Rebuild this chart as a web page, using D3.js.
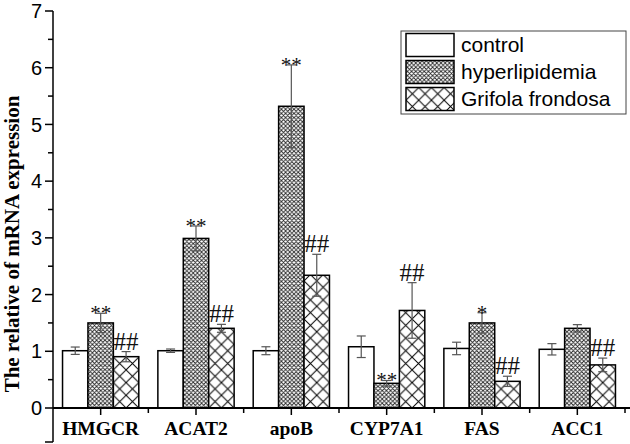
<!DOCTYPE html>
<html>
<head>
<meta charset="utf-8">
<script src="https://cdn.jsdelivr.net/npm/d3@7"></script>
<style>
  html, body { margin: 0; padding: 0; background: #fff; }
  svg { display: block; }
</style>
</head>
<body>
<svg id="chart" width="630" height="444"></svg>
<script>
const categories = ["HMGCR", "ACAT2", "apoB", "CYP7A1", "FAS", "ACC1"];
const seriesNames = ["control", "hyperlipidemia", "Grifola frondosa"];
const controlMean = [1.01, 1.01, 1.01, 1.08, 1.05, 1.035];
const controlErr  = [0.065, 0.03, 0.07, 0.19, 0.11, 0.10];
const hyperMean   = [1.50, 2.99, 5.32, 0.435, 1.50, 1.405];
const hyperErr    = [0.17, 0.22, 0.73, 0.05, 0.18, 0.065];
const gfMean      = [0.905, 1.405, 2.34, 1.72, 0.47, 0.76];
const gfErr       = [0.09, 0.07, 0.37, 0.49, 0.09, 0.12];
const hyperMarks  = ["**", "**", "**", "**", "*", ""];
const gfMarks     = ["##", "##", "##", "##", "##", "##"];
const yTickValues = [0, 1, 2, 3, 4, 5, 6, 7];
const yMinorValues = [0.5, 1.5, 2.5, 3.5, 4.5, 5.5, 6.5];
const yTitle = "The relative of mRNA expression";

const means = [controlMean, hyperMean, gfMean];
const errs = [controlErr, hyperErr, gfErr];
const marks = [categories.map(() => ""), hyperMarks, gfMarks];

const svg = d3.select("#chart");
const plotLeft = 53, plotRight = 625, plotTop = 11, plotBottom = 408;

const y = d3.scaleLinear().domain([0, 7]).range([plotBottom, plotTop]);
const x0 = d3.scaleBand().domain(categories).range([plotLeft, plotRight]).paddingInner(0.2).paddingOuter(0.1);
const x1 = d3.scaleBand().domain(seriesNames).range([0, x0.bandwidth()]);

const defs = svg.append("defs");
// fine crosshatch
const fs = 4.2;
const fine = defs.append("pattern").attr("id", "fine").attr("patternUnits", "userSpaceOnUse")
  .attr("width", fs).attr("height", fs);
fine.append("rect").attr("width", fs).attr("height", fs).attr("fill", "#fff");
fine.append("path").attr("d", `M0,0 L${fs},${fs} M0,${fs} L${fs},0 M-1,1 L1,-1 M${fs-1},${fs+1} L${fs+1},${fs-1} M-1,${fs-1} L1,${fs+1} M${fs-1},-1 L${fs+1},1`)
  .attr("stroke", "#222").attr("stroke-width", 0.85);

function coarsePattern(id, x0p, y0p) {
  const s = x1.bandwidth() / 2;
  const p = defs.append("pattern").attr("id", id).attr("patternUnits", "userSpaceOnUse")
    .attr("x", x0p).attr("y", y0p).attr("width", s).attr("height", s);
  p.append("rect").attr("width", s).attr("height", s).attr("fill", "#fff");
  p.append("path").attr("d", `M0,0 L${s},${s} M0,${s} L${s},0`).attr("stroke", "#000").attr("stroke-width", 1);
}

const fills = ["#fff", "url(#fine)", null];

// Bars
const g = svg.append("g");
categories.forEach((c, ci) => {
  seriesNames.forEach((s, si) => {
    const v = means[si][ci];
    const bx = x0(c) + x1(s);
    const bw = x1.bandwidth();
    let fill = fills[si];
    if (si === 2) {
      const id = "coarse" + ci;
      coarsePattern(id, bx, plotBottom);
      fill = `url(#${id})`;
    }
    g.append("rect").attr("x", bx).attr("y", y(v)).attr("width", bw).attr("height", plotBottom - y(v))
      .attr("fill", fill).attr("stroke", "#000").attr("stroke-width", 1.5);
  });
});

// Error bars
categories.forEach((c, ci) => {
  seriesNames.forEach((s, si) => {
    const v = means[si][ci], e = errs[si][ci];
    const cx = x0(c) + x1(s) + x1.bandwidth() / 2;
    const eg = g.append("g").attr("stroke", "#555").attr("stroke-width", 1.2);
    eg.append("line").attr("x1", cx).attr("x2", cx).attr("y1", y(v + e)).attr("y2", y(v - e));
    eg.append("line").attr("x1", cx - 4.5).attr("x2", cx + 4.5).attr("y1", y(v + e)).attr("y2", y(v + e));
    eg.append("line").attr("x1", cx - 4.5).attr("x2", cx + 4.5).attr("y1", y(v - e)).attr("y2", y(v - e));
    const m = marks[si][ci];
    if (m) {
      const isStar = m.indexOf("*") >= 0;
      g.append("text").attr("x", cx).attr("y", isStar ? y(v + e) + 7 : y(v + e) - 2)
        .attr("text-anchor", "middle")
        .attr("font-family", "'Liberation Serif', 'Times New Roman', serif")
        .attr("font-size", isStar ? 21 : 25)
        .attr("fill", "#111")
        .text(m);
    }
  });
});

// Y axis
const ax = svg.append("g").attr("stroke", "#000");
ax.append("line").attr("x1", plotLeft).attr("x2", plotLeft).attr("y1", plotTop).attr("y2", 442).attr("stroke-width", 1.5);
ax.append("line").attr("x1", plotLeft - 8).attr("x2", plotLeft).attr("y1", 442).attr("y2", 442).attr("stroke-width", 1.5);
yTickValues.forEach(t => {
  ax.append("line").attr("x1", plotLeft - 8).attr("x2", plotLeft).attr("y1", y(t)).attr("y2", y(t)).attr("stroke-width", 1.5);
});
yMinorValues.forEach(t => {
  ax.append("line").attr("x1", plotLeft - 5).attr("x2", plotLeft).attr("y1", y(t)).attr("y2", y(t)).attr("stroke-width", 1.5);
});
svg.append("g").selectAll("text").data(yTickValues).join("text")
  .attr("x", plotLeft - 11).attr("y", d => y(d)).attr("dy", "0.36em")
  .attr("text-anchor", "end")
  .attr("font-family", "'Liberation Sans', Arial, sans-serif").attr("font-size", 20)
  .text(d => d);

// X axis
ax.append("line").attr("x1", plotLeft).attr("x2", 630).attr("y1", plotBottom).attr("y2", plotBottom).attr("stroke-width", 2);
categories.forEach((c) => {
  const cx = x0(c) + x0.bandwidth() / 2;
  ax.append("line").attr("x1", cx).attr("x2", cx).attr("y1", plotBottom).attr("y2", plotBottom + 7).attr("stroke-width", 1.5);
  const bx = x0(c) + x0.bandwidth() + x0.step() * 0.1;
  ax.append("line").attr("x1", bx).attr("x2", bx).attr("y1", plotBottom).attr("y2", plotBottom + 5).attr("stroke-width", 1.5);
});
svg.append("g").selectAll("text").data(categories).join("text")
  .attr("x", d => x0(d) + x0.bandwidth() / 2).attr("y", 435)
  .attr("text-anchor", "middle")
  .attr("font-family", "'Liberation Serif', 'Times New Roman', serif").attr("font-weight", "bold").attr("font-size", 19.5)
  .text(d => d);

// Y title
svg.append("text").attr("transform", `translate(19,244) rotate(-90)`)
  .attr("text-anchor", "middle")
  .attr("font-family", "'Liberation Serif', 'Times New Roman', serif").attr("font-weight", "bold").attr("font-size", 21)
  .text(yTitle);

// Legend
const lg = svg.append("g");
lg.append("rect").attr("x", 401).attr("y", 31).attr("width", 225).attr("height", 83)
  .attr("fill", "#fff").attr("stroke", "#444").attr("stroke-width", 1);
seriesNames.forEach((s, i) => {
  const ry = 33.5 + i * 27;
  let fill = fills[i];
  if (i === 2) { coarsePattern("coarseLeg", 406, ry); fill = "url(#coarseLeg)"; }
  lg.append("rect").attr("x", 406).attr("y", ry).attr("width", 48).attr("height", 23)
    .attr("fill", fill).attr("stroke", "#000").attr("stroke-width", 1.5);
  lg.append("text").attr("x", 461).attr("y", ry + 11.5).attr("dy", "0.35em")
    .attr("font-family", "'Liberation Sans', Arial, sans-serif").attr("font-size", 21)
    .text(s);
});
</script>
</body>
</html>
